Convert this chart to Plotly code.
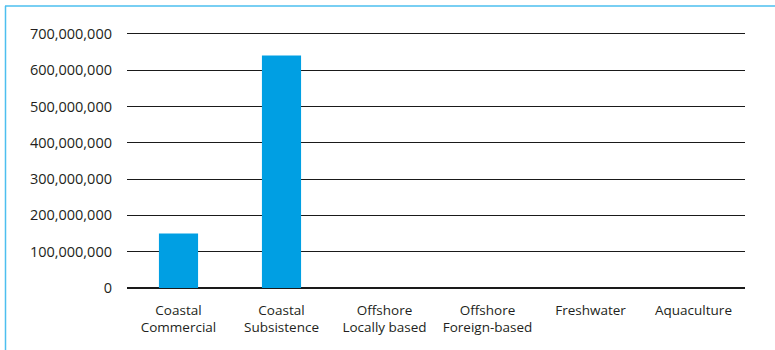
import plotly.graph_objects as go

categories = ["Coastal<br>Commercial", "Coastal<br>Subsistence", "Offshore<br>Locally based",
              "Offshore<br>Foreign-based", "Freshwater", "Aquaculture"]
values = [150000000, 640000000, 0, 0, 0, 0]
y_ticks = [0, 100000000, 200000000, 300000000, 400000000, 500000000, 600000000, 700000000]

W, H = 775, 350
L, R, T, B = 127, 30, 32, 62
pw, ph = W - L - R, H - T - B

def px_x(p):
    return (p - L) / pw

def px_y(p):
    return (H - B - p) / ph

fig = go.Figure(go.Bar(x=categories, y=values, marker_color="#009FE3", marker_line_width=0))

border = "#4DBFEF"
fig.add_shape(type="line", xref="paper", yref="paper", x0=px_x(5), x1=px_x(776), y0=px_y(6), y1=px_y(6),
              line=dict(color=border, width=1.5))
fig.add_shape(type="line", xref="paper", yref="paper", x0=px_x(5.5), x1=px_x(5.5), y0=px_y(6), y1=px_y(351),
              line=dict(color=border, width=1.5))

fig.update_layout(
    width=W, height=H,
    margin=dict(l=L, r=R, t=T, b=B),
    paper_bgcolor="white", plot_bgcolor="white",
    font=dict(family="Open Sans", size=14.5, color="#231F20"),
    bargap=0.62,
    showlegend=False,
)
fig.update_xaxes(showgrid=False, showline=False, ticks="", ticklabelstandoff=12,
                 tickfont=dict(size=13.5))
fig.update_yaxes(range=[0, 705000000], tickvals=y_ticks, tickformat=",", showgrid=True,
                 gridcolor="#1a1a1a", gridwidth=1, zeroline=True, zerolinecolor="#1a1a1a",
                 zerolinewidth=1.5, showline=False, ticks="", ticklabelstandoff=14)

fig.write_html("out.html")
